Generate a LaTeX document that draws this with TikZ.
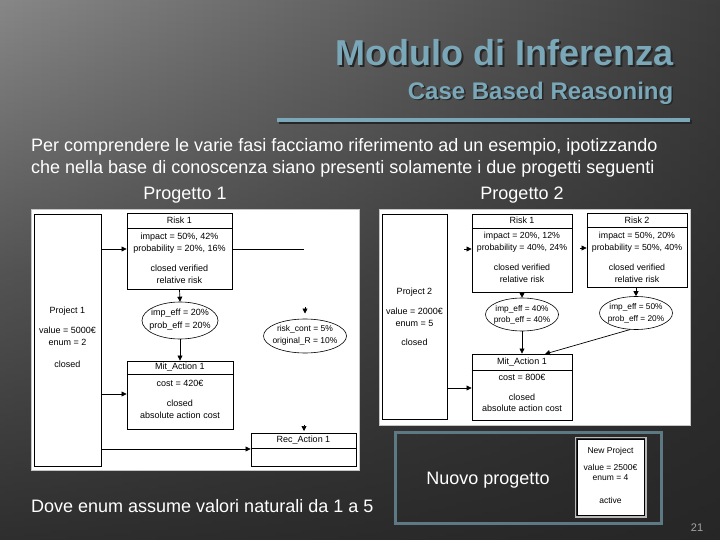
\documentclass[tikz,border=0pt]{standalone}
\usepackage{fontspec}
\setmainfont{Liberation Sans}
\usetikzlibrary{arrows.meta,shapes.geometric,fadings}
\definecolor{bgA}{RGB}{142,142,142}
\definecolor{bgB}{RGB}{62,62,62}
\definecolor{bgC}{RGB}{36,36,36}
\definecolor{titleblue}{RGB}{122,168,184}
\definecolor{framegray}{RGB}{93,122,132}
\begin{tikzfadingfrompicture}[name=vfade]
\shade[top color=transparent!100, bottom color=transparent!5, middle color=transparent!45] (0,0) rectangle (2,2);
\end{tikzfadingfrompicture}
\begin{document}
\begin{tikzpicture}[x=1pt,y=-1pt,
  box/.style={draw=black, line width=0.9pt, fill=white, inner sep=0pt},
  ell/.style={draw=black, line width=0.6pt, ellipse, inner sep=0pt},
  lbl/.style={font=\fontsize{9}{12}\selectfont, text=black, inner sep=0pt, align=center},
  elbl/.style={font=\fontsize{8.5}{11.5}\selectfont, text=black, inner sep=0pt, align=center},
  arr/.style={-{Triangle[length=5pt,width=5pt]}, line width=0.7pt},
  wtxt/.style={text=white, font=\fontsize{18}{22}\selectfont, inner sep=0pt},
  panel/.style={draw=gray!45, line width=0.6pt, fill=white, inner sep=0pt}
]
\useasboundingbox (0,0) rectangle (720,540);
\shade[left color=bgA, right color=bgB] (0,0) rectangle (720,540);
\fill[bgC, path fading=vfade] (0,0) rectangle (720,540);

% title
\node[anchor=base east, text=black!85, font=\fontsize{36}{40}\selectfont\bfseries, inner sep=0pt] (titlesh) at (675.5,68) {Modulo di Inferenza};
\node[anchor=base east, text=titleblue, font=\fontsize{36}{40}\selectfont\bfseries, inner sep=0pt] (title) at (673.5,66) {Modulo di Inferenza};
\node[anchor=base east, text=black!85, font=\fontsize{24}{28}\selectfont\bfseries, inner sep=0pt] (subsh) at (675,101) {Case Based Reasoning};
\node[anchor=base east, text=titleblue, font=\fontsize{24}{28}\selectfont\bfseries, inner sep=0pt] (sub) at (673.5,99.5) {Case Based Reasoning};
\coordinate (ulA) at (277,120.5);
\coordinate (ulB) at (690,120.5);
\draw[line width=4pt, black!85] ([shift={(2,2)}]ulA) -- ([shift={(2,2)}]ulB);
\draw[line width=4pt, titleblue] (ulA) -- (ulB);

% body text
\node[wtxt, anchor=base west] (l1) at (31,152) {Per comprendere le varie fasi facciamo riferimento ad un esempio, ipotizzando};
\node[wtxt, anchor=base west] (l2) at (31,174) {che nella base di conoscenza siano presenti solamente i due progetti seguenti};
\node[wtxt, anchor=base] (pg1) at (185,200) {Progetto 1};
\node[wtxt, anchor=base] (pg2) at (522,200) {Progetto 2};
\node[wtxt, anchor=base west] (dove) at (31,512) {Dove enum assume valori naturali da 1 a 5};

% left panel
\node[panel, minimum width=328pt, minimum height=261pt] (lp) at (195,339.5) {};
\node[box, minimum width=67pt, minimum height=252pt] (p1) at (67.5,340) {};
\node[lbl] (p1t) at (67.5,337.5) {Project 1\\[8pt]value = 5000€\\enum = 2\\[10pt]closed};

\node[box, minimum width=105pt, minimum height=76pt] (r1) at (179.5,251) {};
\draw[line width=0.9pt] (r1.west |- 0,228) -- (r1.east |- 0,228);
\node[lbl] (r1h) at (179.5,220.5) {Risk 1};
\node[lbl] (r1b) at (179.5,258.5) {impact = 50\%, 42\%\\probability = 20\%, 16\%\\[8pt]closed verified\\relative risk};

\node[ell, minimum width=76pt, minimum height=37pt] (e1) at (180,320.5) {};
\node[elbl, font=\fontsize{9}{13}\selectfont] (e1t) at (180,319.5) {imp\_eff = 20\%\\prob\_eff = 20\%};
\node[ell, minimum width=83pt, minimum height=34pt] (e2) at (305,336) {};
\node[elbl] (e2t) at (305,335.5) {risk\_cont = 5\%\\original\_R = 10\%};

\node[box, minimum width=106pt, minimum height=68pt] (m1) at (180,395) {};
\draw[line width=0.9pt] (m1.west |- 0,374) -- (m1.east |- 0,374);
\node[lbl] (m1h) at (180,367.5) {Mit\_Action 1};
\node[lbl] (m1b) at (180,399) {cost = 420€\\[8pt]closed\\absolute action cost};

\node[box, minimum width=105pt, minimum height=33pt] (rec1) at (303.5,449.5) {};
\draw[line width=0.9pt] (rec1.west |- 0,448) -- (rec1.east |- 0,448);
\node[lbl] (rec1h) at (303.5,440.5) {Rec\_Action 1};

\coordinate (r1end) at (304,249);
\draw[arr] (p1.east |- 0,249) -- (r1.west |- 0,249);
\draw[line width=0.7pt] (r1.east |- 0,249) -- (r1end);
\draw[arr] (r1.south) -- (e1.north);
\draw[arr] (e1.south) -- (m1.north);
\coordinate (tipA1) at (305,307);
\coordinate (tipA2) at (305,313.5);
\draw[arr] (tipA1) -- (tipA2);
\coordinate (tipB1) at (304,424.5);
\coordinate (tipB2) at (304,431);
\draw[arr] (tipB1) -- (tipB2);
\draw[arr] (p1.east |- 0,394) -- (m1.west |- 0,394);
\draw[arr] (p1.east |- 0,449) -- (rec1.west |- 0,449);

% right panel
\node[panel, minimum width=311pt, minimum height=216pt] (rp) at (534.5,317) {};
\node[box, minimum width=65pt, minimum height=205pt] (p2) at (414.5,316.5) {};
\node[lbl] (p2t) at (414.5,317) {Project 2\\[8pt]value = 2000€\\enum = 5\\[7pt]closed};

\node[box, minimum width=100pt, minimum height=78pt] (rr1) at (522,253) {};
\draw[line width=0.9pt] (rr1.west |- 0,228) -- (rr1.east |- 0,228);
\node[lbl] (rr1h) at (522,220.5) {Risk 1};
\node[lbl, font=\fontsize{8.8}{11.5}\selectfont] (rr1b) at (522,257.5) {impact = 20\%, 12\%\\probability = 40\%, 24\%\\[9pt]closed verified\\relative risk};

\node[box, minimum width=100pt, minimum height=74pt] (rr2) at (637,250) {};
\draw[line width=0.9pt] (rr2.west |- 0,227) -- (rr2.east |- 0,227);
\node[lbl] (rr2h) at (637,220) {Risk 2};
\node[lbl, font=\fontsize{8.8}{11.5}\selectfont] (rr2b) at (637,257.5) {impact = 50\%, 20\%\\probability = 50\%, 40\%\\[9pt]closed verified\\relative risk};

\node[ell, minimum width=73pt, minimum height=33pt] (e3) at (522,314.5) {};
\node[elbl, font=\fontsize{8.3}{11}\selectfont] (e3t) at (522,315) {imp\_eff = 40\%\\prob\_eff = 40\%};
\node[ell, minimum width=73pt, minimum height=33pt] (e4) at (636,313) {};
\node[elbl, font=\fontsize{8.3}{12}\selectfont] (e4t) at (636,313.5) {imp\_eff = 50\%\\prob\_eff = 20\%};

\node[box, minimum width=100pt, minimum height=66pt] (rm1) at (522,387) {};
\draw[line width=0.9pt] (rm1.west |- 0,370) -- (rm1.east |- 0,370);
\node[lbl] (rm1h) at (522,362) {Mit\_Action 1};
\node[lbl, font=\fontsize{9}{11}\selectfont] (rm1b) at (522,392.5) {cost = 800€\\[9pt]closed\\absolute action cost};

\coordinate (tipC) at (464,249);
\coordinate (tipD) at (579.5,248);
\draw[arr] (tipC) -- (rr1.west |- 0,249);
\draw[arr] (tipD) -- (rr2.west |- 0,248);
\draw[arr] (rr1.south) -- (e3.north);
\draw[arr] (rr2.south -| e4.north) -- (e4.north);
\draw[arr] (e3.south) -- (rm1.north);
\coordinate (rmtop) at (545,354);
\draw[arr] (e4.250) -- (rmtop);
\draw[arr] (p2.east |- 0,388) -- (rm1.west |- 0,388);

% new project frame
\node[draw=framegray, line width=3pt, minimum width=266pt, minimum height=91pt, inner sep=0pt] (nf) at (528,477.5) {};
\node[wtxt, anchor=base] (nuovo) at (488,484) {Nuovo progetto};
\node[draw=black, line width=0.5pt, fill=white, minimum width=67pt, minimum height=76pt, inner sep=0pt] (np) at (610.5,477) {};
\draw[gray!55, line width=1.5pt] ([shift={(-1.5,-1.5)}]np.north west) rectangle ([shift={(1.5,1.5)}]np.south east);
\node[lbl, font=\fontsize{8.5}{9.5}\selectfont] (npt) at (610.5,475.5) {New Project\\[8pt]value = 2500€\\enum = 4\\[14pt]active};

\node[text=gray!70, font=\fontsize{11}{12}\selectfont, inner sep=0pt] (pnum) at (697,528) {21};
\end{tikzpicture}
\end{document}
